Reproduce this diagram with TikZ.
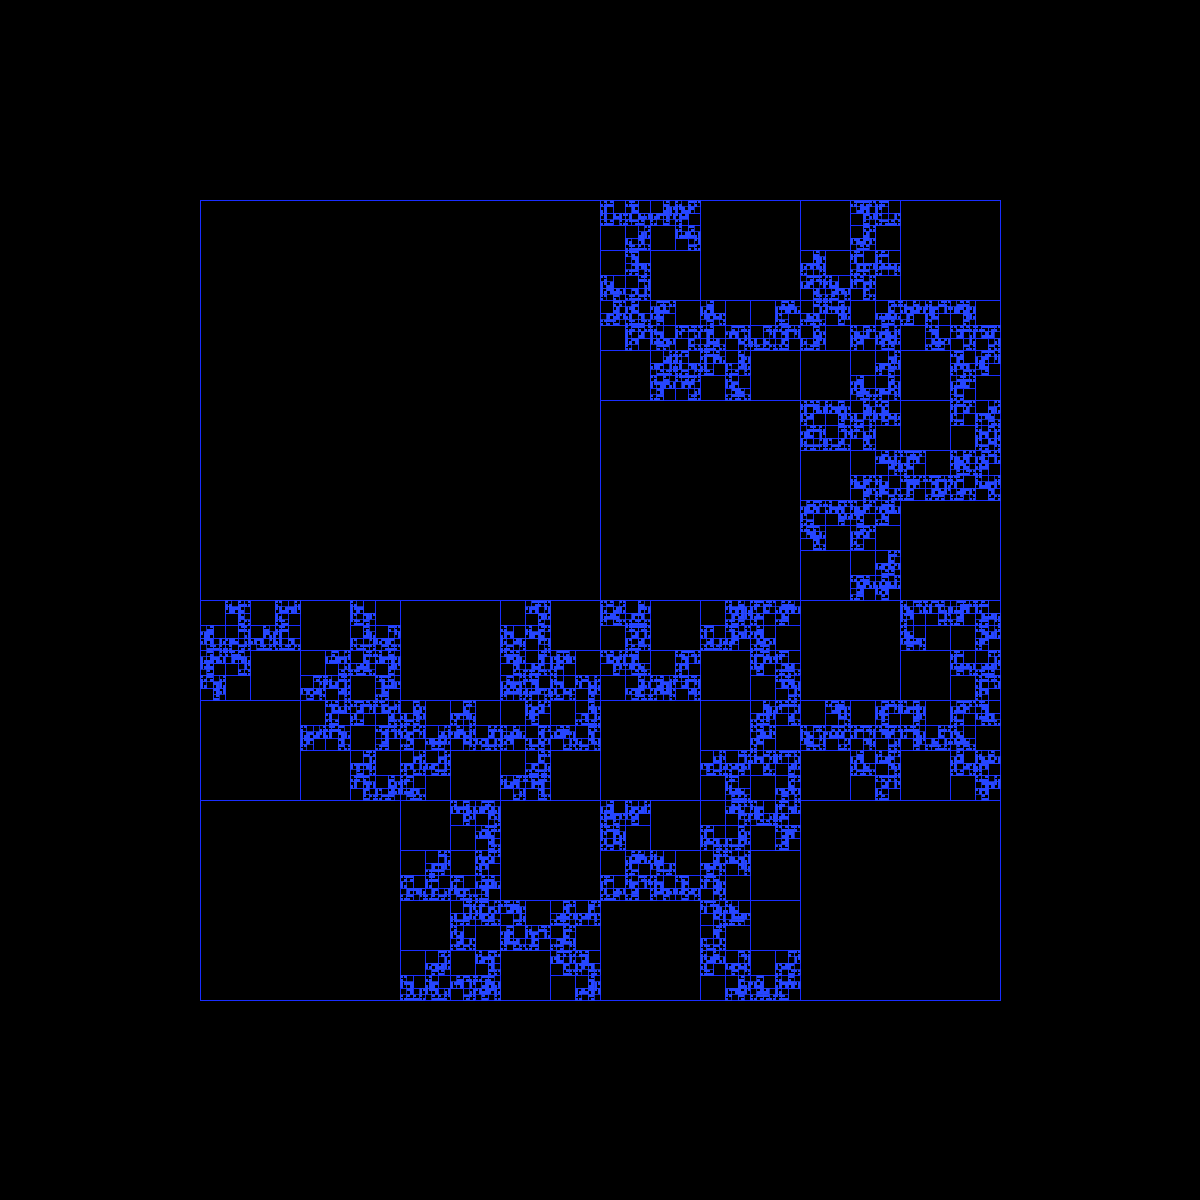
\documentclass[tikz,border=0pt]{standalone}
\definecolor{gridblue}{RGB}{25,45,255}
\definecolor{leafblue}{RGB}{38,70,255}
\tikzset{
  quadline/.style={draw=gridblue,line width=0.28pt},
  midline/.style={draw=leafblue,line width=0.2pt,draw opacity=0.7},
  leafcell/.style={fill=leafblue}
}
% one 3.125 px cell is the last level, the two levels above it are not read off the picture
\newcommand{\tinycell}[2]{%
  \pgfmathsetmacro{\tx}{#1+0.25}\pgfmathsetmacro{\ty}{#2+0.25}%
  \fill[leafcell] (\tx,\ty) rectangle +(2.625,2.625);}
\newcommand{\midcell}[2]{%
  \draw[midline] (#1,#2) rectangle +(6.25,6.25);
  \pgfmathrandominteger{\holeB}{0}{3}%
  \edef\holeB{\holeB}%
  \ifnum\holeB=0 \else\tinycell{#1}{#2}\fi
  \ifnum\holeB=1 \else\tinycell{#1+3.125}{#2}\fi
  \ifnum\holeB=2 \else\tinycell{#1}{#2+3.125}\fi
  \ifnum\holeB=3 \else\tinycell{#1+3.125}{#2+3.125}\fi}
\newcommand{\smallcell}[2]{%
  \pgfmathsetmacro{\sx}{#1}\pgfmathsetmacro{\sy}{#2}%
  \edef\sxy{{\sx}{\sy}}%
  \expandafter\smallcellat\sxy}
\newcommand{\smallcellat}[2]{%
  \draw[quadline] (#1,#2) rectangle +(12.5,12.5);
  \pgfmathrandominteger{\holeA}{0}{3}%
  \edef\holeAsave{\holeA}%
  \pgfmathsetmacro{\mxa}{#1+6.25}\pgfmathsetmacro{\mya}{#2+6.25}%
  \edef\doit{%
    \ifnum\holeAsave=0 \else\noexpand\midcell{#1}{#2}\fi
    \ifnum\holeAsave=1 \else\noexpand\midcell{\mxa}{#2}\fi
    \ifnum\holeAsave=2 \else\noexpand\midcell{#1}{\mya}\fi
    \ifnum\holeAsave=3 \else\noexpand\midcell{\mxa}{\mya}\fi}%
  \doit}
% #3 is the empty corner of a 25 px cell: x no cell, 4 no corner empty
\newcommand{\quartercell}[3]{%
  \if#3x\else
    \draw[quadline] (#1,#2) rectangle +(25,25);
    \if#30\else\smallcell{#1}{#2}\fi
    \if#31\else\smallcell{#1+12.5}{#2}\fi
    \if#32\else\smallcell{#1}{#2+12.5}\fi
    \if#33\else\smallcell{#1+12.5}{#2+12.5}\fi
  \fi}
\def\fiftycell#1#2#3#4#5#6{%
  \draw[quadline] (#1,#2) rectangle +(50,50);
  \pgfmathtruncatemacro{\qxa}{#1+25}\pgfmathtruncatemacro{\qya}{#2+25}%
  \edef\doquarters{%
    \noexpand\quartercell{#1}{#2}{#3}%
    \noexpand\quartercell{\qxa}{#2}{#4}%
    \noexpand\quartercell{#1}{\qya}{#5}%
    \noexpand\quartercell{\qxa}{\qya}{#6}}%
  \doquarters}
\def\splitcode#1#2#3#4#5#6\relax{\fiftycell{#1}{#2}#3#4#5#6}
\begin{document}
\begin{tikzpicture}[x=0.01cm,y=-0.01cm,shift={(0.5,0.5)}]
  \pgfmathsetseed{4711}
  \fill[black] (-0.5,-0.5) rectangle (1199.5,1199.5);
  \useasboundingbox (-0.5,-0.5) rectangle (1199.5,1199.5);
  \draw[quadline] (200,200) rectangle +(800,800);
  \foreach \px/\py in {600/200,200/600,600/600}
    \draw[quadline] (\px,\py) rectangle +(400,400);
  \foreach \px/\py in {600/200,800/200,800/400,200/600,400/600,400/800,600/600,800/600,600/800}
    \draw[quadline] (\px,\py) rectangle +(200,200);
  \foreach \px/\py in {600/200,600/300,700/300,800/200,800/300,900/300,800/400,900/400,800/500,
      200/600,300/600,300/700,500/600,400/700,500/700,400/800,400/900,500/900,
      600/600,700/600,700/700,900/600,800/700,900/700,600/800,700/800,700/900}
    \draw[quadline] (\px,\py) rectangle +(100,100);
  \foreach \px/\py/\code in {
      600/200/11x0,650/200/03x2,600/250/x110,600/300/01x3,650/300/3x12,650/350/0132,700/300/1x12,750/300/x303,700/350/30x1,
      850/200/210x,800/250/0x21,850/250/112x,800/300/020x,850/300/x034,850/350/x010,900/300/33x1,950/300/2x22,950/350/133x,
      800/400/3240,850/400/012x,850/450/x221,950/400/30x4,900/450/3x34,950/450/4312,800/500/322x,850/500/333x,850/550/x033,
      200/600/x210,250/600/x301,200/650/322x,350/600/1x00,300/650/x202,350/650/02x3,300/700/x332,350/700/32x3,350/750/0x20,
      500/600/x212,500/650/2041,550/650/3x12,400/700/0x30,450/700/0x20,400/750/001x,500/700/x330,550/700/x020,500/750/x022,
      450/800/22x2,400/850/x011,450/850/x313,450/900/041x,400/950/x011,450/950/x224,500/900/2x13,550/900/000x,550/950/21x0,
      600/600/40x4,600/650/21x0,650/650/x342,700/600/x413,750/600/331x,750/650/31x2,750/700/023x,700/750/00x1,750/750/22x0,
      900/600/321x,950/600/31x3,950/650/10x3,800/700/x242,850/700/x322,850/750/12x3,900/700/2x20,950/700/311x,950/750/13x3,
      600/800/134x,600/850/x313,650/850/1x11,700/800/x210,750/800/13x3,700/850/022x,700/900/210x,700/950/30x0,750/950/x013}
    {\edef\blockargs{{\px}{\py}\code}\expandafter\splitcode\blockargs\relax}
\end{tikzpicture}
\end{document}
